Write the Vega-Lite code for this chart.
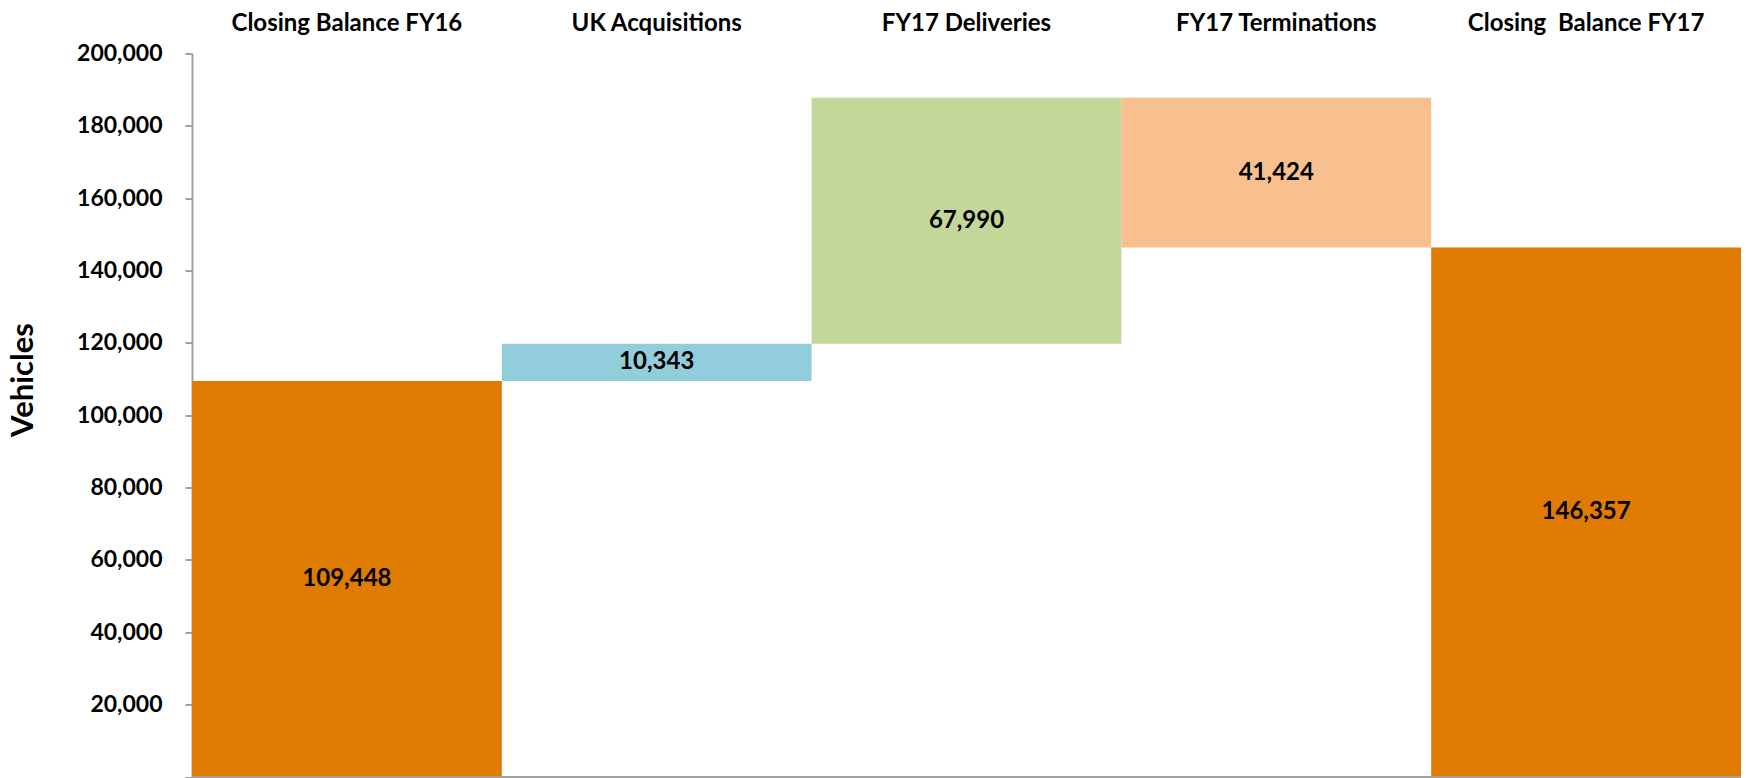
{
  "$schema": "https://vega.github.io/schema/vega-lite/v6.json",
  "autosize": "none",
  "width": 1549,
  "height": 723.5,
  "padding": {"left": 192, "top": 53.5, "right": 5, "bottom": 1},
  "background": "white",
  "config": {"view": {"stroke": null}, "font": "Lato"},
  "data": {
    "values": [
      {"category": "Closing Balance FY16", "start": 0, "end": 109448, "amount": 109448},
      {"category": "UK Acquisitions", "start": 109448, "end": 119791, "amount": 10343},
      {"category": "FY17 Deliveries", "start": 119791, "end": 187781, "amount": 67990},
      {"category": "FY17 Terminations", "start": 187781, "end": 146357, "amount": 41424},
      {"category": "Closing \u00a0Balance FY17", "start": 0, "end": 146357, "amount": 146357}
    ]
  },
  "transform": [{"calculate": "(datum.start + datum.end) / 2", "as": "mid"}],
  "layer": [
    {
      "mark": {"type": "bar", "cornerRadius": 0},
      "encoding": {
        "x": {
          "field": "category", "type": "nominal", "sort": null,
          "scale": {"paddingInner": 0, "paddingOuter": 0},
          "axis": {
            "orient": "top", "title": null, "domain": false, "ticks": false, "tickSize": 0,
            "labelAngle": 0, "labelFont": "Lato", "labelFontWeight": "bold", "labelFontSize": 24,
            "labelColor": "#000000", "labelPadding": 18, "labelLimit": 0
          }
        },
        "y": {
          "field": "start", "type": "quantitative",
          "scale": {"domain": [0, 200000], "nice": false},
          "axis": {
            "values": [0, 20000, 40000, 60000, 80000, 100000, 120000, 140000, 160000, 180000, 200000],
            "labelExpr": "datum.value == 0 ? '' : format(datum.value, ',')",
            "grid": false,
            "domainColor": "#A0A0A0", "domainWidth": 2,
            "tickColor": "#A0A0A0", "tickWidth": 2, "tickSize": 7,
            "labelFont": "Lato", "labelFontWeight": "bold", "labelFontSize": 23,
            "labelColor": "#000000", "labelPadding": 23,
            "title": "Vehicles",
            "titleFont": "Lato", "titleFontWeight": "bold", "titleFontSize": 31, "titleColor": "#000000",
            "titleX": -169, "titleY": 326, "titleAngle": -90, "titleAlign": "center", "titleBaseline": "middle"
          }
        },
        "y2": {"field": "end"},
        "color": {
          "field": "category", "type": "nominal", "legend": null,
          "scale": {
            "domain": ["Closing Balance FY16", "UK Acquisitions", "FY17 Deliveries", "FY17 Terminations", "Closing \u00a0Balance FY17"],
            "range": ["#DF7B00", "#92CDDC", "#C4D79B", "#F9C08F", "#DF7B00"]
          }
        }
      }
    },
    {
      "mark": {"type": "text", "font": "Lato", "fontWeight": "bold", "fontSize": 24, "color": "#000000", "baseline": "middle", "align": "center"},
      "encoding": {
        "x": {"field": "category", "type": "nominal", "sort": null},
        "y": {"field": "mid", "type": "quantitative"},
        "text": {"field": "amount", "type": "quantitative", "format": ","}
      }
    },
    {
      "mark": {"type": "rule", "color": "#A0A0A0", "strokeWidth": 2},
      "encoding": {"y": {"datum": 0}}
    }
  ]
}
